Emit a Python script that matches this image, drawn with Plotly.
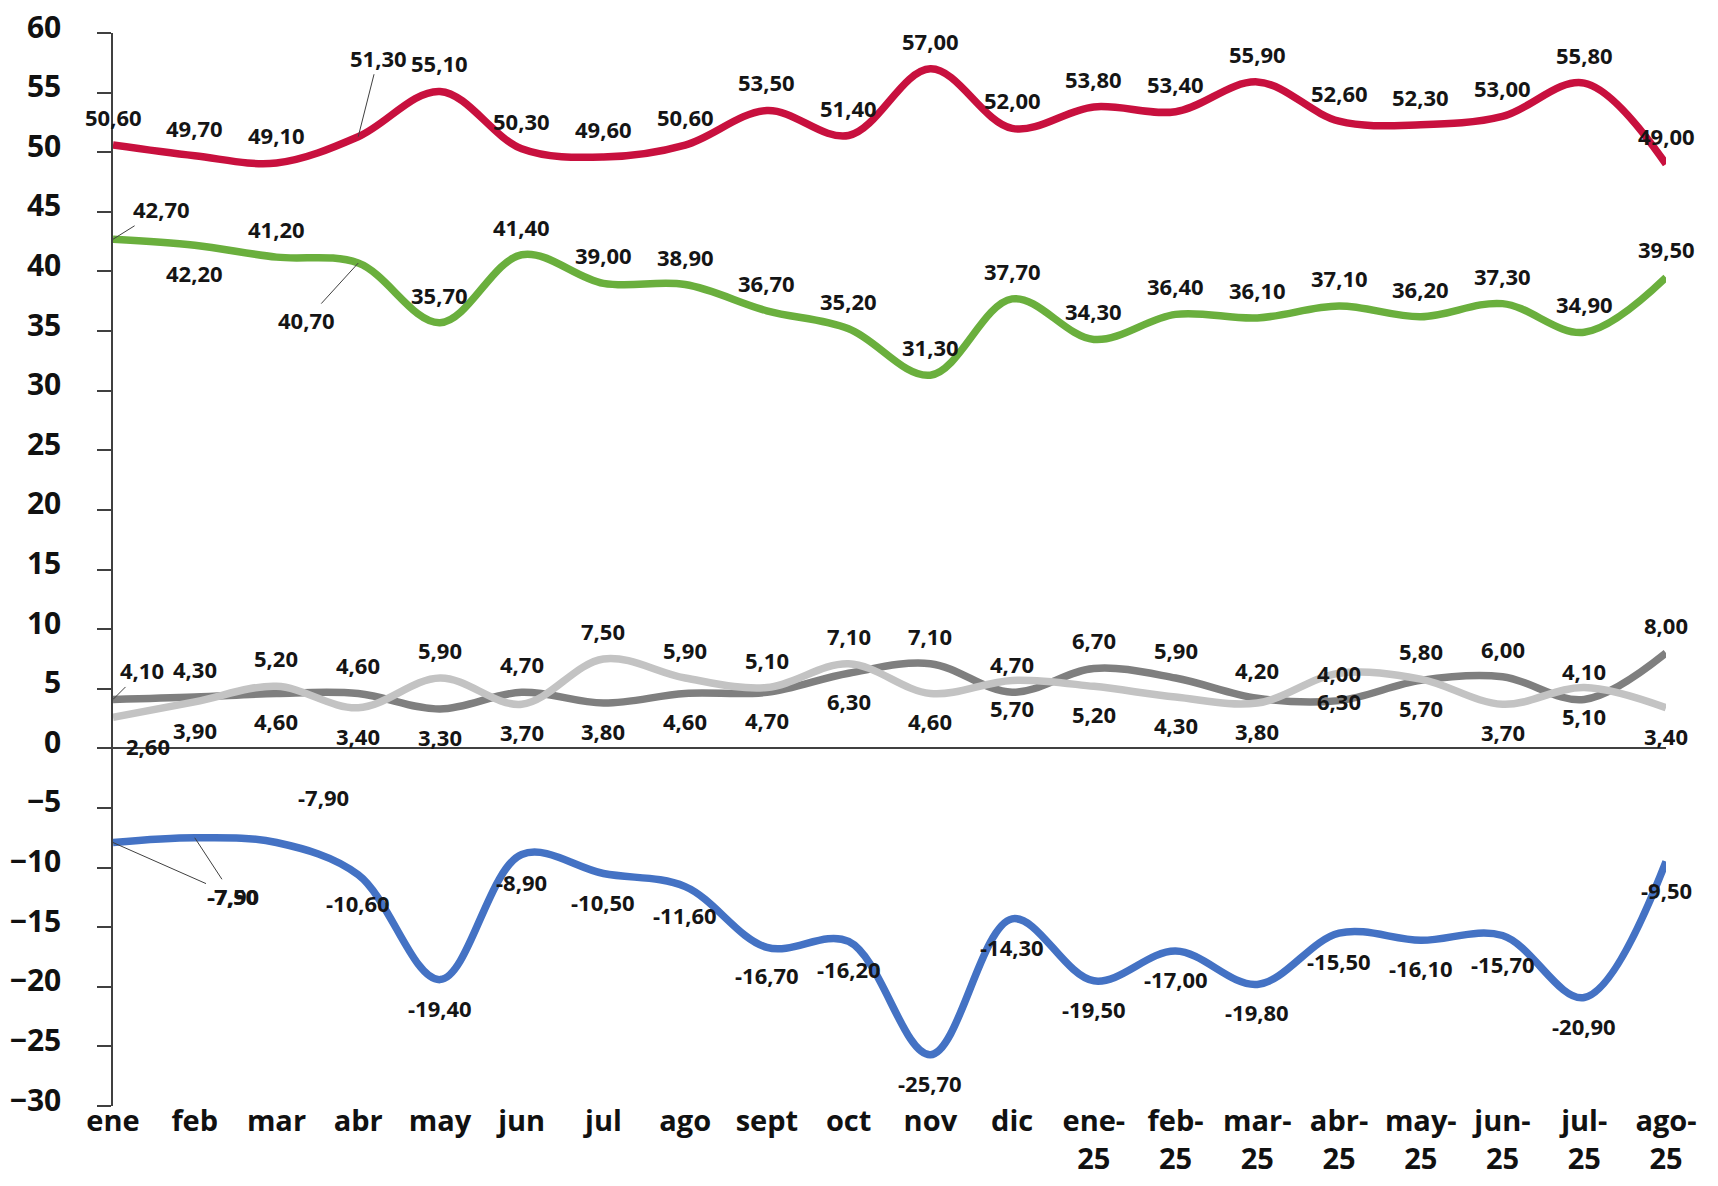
import plotly.graph_objects as go

# Categories (months)
months = ["ene", "feb", "mar", "abr", "may", "jun", "jul", "ago", "sept", "oct", "nov", "dic",
          "ene-<br>25", "feb-<br>25", "mar-<br>25", "abr-<br>25", "may-<br>25", "jun-<br>25",
          "jul-<br>25", "ago-<br>25"]

# Series values
red_vals = [50.6, 49.7, 49.1, 51.3, 55.1, 50.3, 49.6, 50.6, 53.5, 51.4, 57.0, 52.0,
            53.8, 53.4, 55.9, 52.6, 52.3, 53.0, 55.8, 49.0]
green_vals = [42.7, 42.2, 41.2, 40.7, 35.7, 41.4, 39.0, 38.9, 36.7, 35.2, 31.3, 37.7,
              34.3, 36.4, 36.1, 37.1, 36.2, 37.3, 34.9, 39.5]
dark_vals = [4.1, 4.3, 4.6, 4.6, 3.3, 4.7, 3.8, 4.6, 4.7, 6.3, 7.1, 4.7,
             6.7, 5.9, 4.2, 4.0, 5.7, 6.0, 4.1, 8.0]
light_vals = [2.6, 3.9, 5.2, 3.4, 5.9, 3.7, 7.5, 5.9, 5.1, 7.1, 4.6, 5.7,
              5.2, 4.3, 3.8, 6.3, 5.8, 3.7, 5.1, 3.4]
blue_vals = [-7.9, -7.5, -7.9, -10.6, -19.4, -8.9, -10.5, -11.6, -16.7, -16.2, -25.7, -14.3,
             -19.5, -17.0, -19.8, -15.5, -16.1, -15.7, -20.9, -9.5]

# label placement: a = above, b = below
red_pos = "aaaaaaaaaaaaaaaaaaaa"
green_pos = "abaaaaaaaaaaaaaaaaaa"
dark_pos = "aabababbbbaaaaaabaaa"
light_pos = "bbababaaaabbbbbbabbb"
blue_pos = "bbabbbbbbbbbbbbbbbbb"

# labels moved by hand in the original (pixel offsets, leader line or not)
moved = {
    ("red", 3): (20, -79, True),
    ("green", 0): (48, -30, True),
    ("green", 3): (-52, 57, True),
    ("dark", 0): (29, -29, True),
    ("light", 0): (35, 29, False),
    ("blue", 0): (120, 53, True),
    ("blue", 1): (38, 58, True),
    ("blue", 2): (47, -46, False),
}

series = [
    ("dark", dark_vals, "#7f7f7f", dark_pos),
    ("light", light_vals, "#c3c3c3", light_pos),
    ("red", red_vals, "#c8103e", red_pos),
    ("green", green_vals, "#6aaf3d", green_pos),
    ("blue", blue_vals, "#4472c4", blue_pos),
]

label_font = dict(family="Open Sans", size=22, color="#151515", weight=700)


def fmt(v):
    return f"{v:.2f}".replace(".", ",")


fig = go.Figure()
for name, vals, color, pos in series:
    fig.add_trace(go.Scatter(x=months, y=vals, mode="lines", name=name,
                             line=dict(color=color, width=7.5, shape="spline", smoothing=1.0),
                             showlegend=False, hoverinfo="skip"))
    for i, v in enumerate(vals):
        if (name, i) in moved:
            dx, dy, leader = moved[(name, i)]
            if leader:
                fig.add_annotation(x=months[i], y=v, text=fmt(v), showarrow=True,
                                   arrowhead=0, arrowwidth=1, arrowcolor="#404040",
                                   ax=dx, ay=dy, standoff=0, font=label_font)
            else:
                fig.add_annotation(x=months[i], y=v, text=fmt(v), showarrow=False,
                                   xshift=dx, yshift=-dy, font=label_font)
        else:
            fig.add_annotation(x=months[i], y=v, text=fmt(v), showarrow=False,
                               yshift=28 if pos[i] == "a" else -28, font=label_font)

# page body adds an 8px margin, so the figure is 16px smaller than the window
fig.update_layout(
    width=1702, height=1170,
    margin=dict(l=105, r=44, t=25, b=72),
    plot_bgcolor="white", paper_bgcolor="white",
    xaxis=dict(range=[0, 19], showgrid=False, showline=False, ticks="", automargin=False,
               tickfont=dict(family="Open Sans", size=29, color="#111111", weight=700),
               ticklabelstandoff=-5),
    yaxis=dict(range=[-30, 60], dtick=5, tick0=0, showgrid=False, automargin=False,
               showline=True, linecolor="#404040", linewidth=1.5,
               ticks="outside", ticklen=14, tickwidth=1.5, tickcolor="#404040",
               zeroline=True, zerolinecolor="#404040", zerolinewidth=1.5,
               tickfont=dict(family="Open Sans", size=30, color="#111111", weight=700),
               ticklabelstandoff=30, ticklabelshift=-6, ticklabeloverflow="allow"),
)

fig.write_html("out.html")
